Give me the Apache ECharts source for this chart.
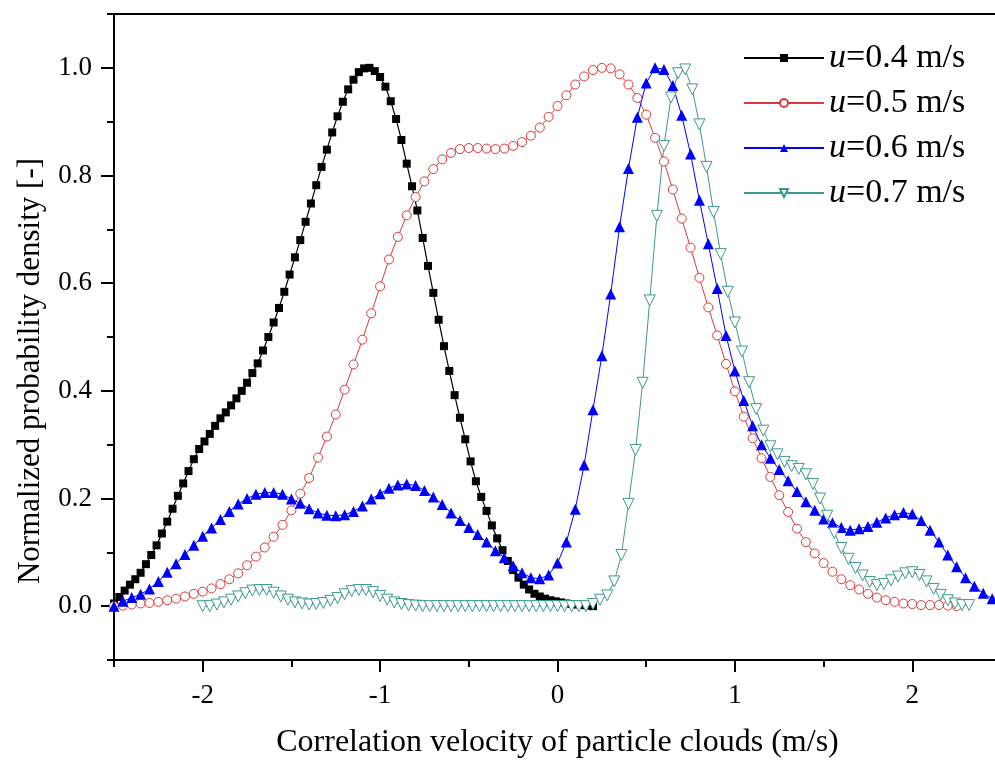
<!DOCTYPE html>
<html>
<head>
<meta charset="utf-8">
<script src="https://cdn.jsdelivr.net/npm/echarts@6/dist/echarts.min.js"></script>
<style>
html,body{margin:0;padding:0;background:#fff;}
#chart{width:995px;height:765px;}
</style>
</head>
<body>
<div id="chart"></div>
<script>
// ---- data ----
const seriesNames = ['u=0.4 m/s', 'u=0.5 m/s', 'u=0.6 m/s', 'u=0.7 m/s'];

const x04 = [-2.5,-2.47,-2.44,-2.41,-2.38,-2.35,-2.32,-2.29,-2.26,-2.23,-2.2,-2.17,-2.14,-2.11,-2.08,-2.05,-2.02,-1.99,-1.96,-1.93,-1.9,-1.87,-1.84,-1.81,-1.78,-1.75,-1.72,-1.69,-1.66,-1.63,-1.6,-1.57,-1.54,-1.51,-1.48,-1.45,-1.42,-1.39,-1.36,-1.33,-1.3,-1.27,-1.24,-1.21,-1.18,-1.15,-1.12,-1.09,-1.06,-1.03,-1,-0.97,-0.94,-0.91,-0.88,-0.85,-0.82,-0.79,-0.76,-0.73,-0.7,-0.67,-0.64,-0.61,-0.58,-0.55,-0.52,-0.49,-0.46,-0.43,-0.4,-0.37,-0.34,-0.31,-0.28,-0.25,-0.22,-0.19,-0.16,-0.13,-0.1,-0.07,-0.04,-0.01,0.02,0.05,0.08,0.11,0.14,0.17,0.2];
const y04 = [0.005,0.017,0.029,0.040,0.050,0.062,0.078,0.095,0.113,0.135,
  0.157,0.181,0.205,0.228,0.251,0.273,0.292,0.306,0.320,0.335,
  0.349,0.360,0.373,0.386,0.400,0.415,0.433,0.451,0.475,0.500,
  0.527,0.554,0.584,0.616,0.648,0.680,0.714,0.748,0.782,0.816,
  0.848,0.880,0.910,0.937,0.960,0.978,0.992,0.999,1.000,0.994,
  0.983,0.965,0.938,0.905,0.866,0.822,0.780,0.735,0.684,0.632,
  0.582,0.532,0.483,0.437,0.392,0.350,0.310,0.269,0.232,0.203,
  0.177,0.150,0.126,0.104,0.084,0.067,0.053,0.040,0.031,0.023,
  0.018,0.014,0.011,0.009,0.007,0.005,0.004,0.003,0.002,0.001,
  0.000];

const x06 = [-2.5,-2.45,-2.4,-2.35,-2.3,-2.25,-2.2,-2.15,-2.1,-2.05,-2,-1.95,-1.9,-1.85,-1.8,-1.75,-1.7,-1.65,-1.6,-1.55,-1.5,-1.45,-1.4,-1.35,-1.3,-1.25,-1.2,-1.15,-1.1,-1.05,-1,-0.95,-0.9,-0.85,-0.8,-0.75,-0.7,-0.65,-0.6,-0.55,-0.5,-0.45,-0.4,-0.35,-0.3,-0.25,-0.2,-0.15,-0.1,-0.05,0,0.05,0.1,0.15,0.2,0.25,0.3,0.35,0.4,0.45,0.5,0.55,0.6,0.65,0.7,0.75,0.8,0.85,0.9,0.95,1,1.05,1.1,1.15,1.2,1.25,1.3,1.35,1.4,1.45,1.5,1.55,1.6,1.65,1.7,1.75,1.8,1.85,1.9,1.95,2,2.05,2.1,2.15,2.2,2.25,2.3,2.35,2.4,2.45,2.5];
const y06 = [0.000,0.009,0.016,0.022,0.032,0.046,0.063,0.079,0.096,0.113,
  0.130,0.145,0.161,0.176,0.190,0.200,0.208,0.211,0.211,0.208,
  0.199,0.191,0.181,0.173,0.169,0.168,0.170,0.176,0.186,0.199,
  0.209,0.219,0.225,0.227,0.224,0.215,0.203,0.189,0.173,0.159,
  0.146,0.133,0.119,0.103,0.090,0.075,0.062,0.053,0.051,0.058,
  0.080,0.119,0.180,0.262,0.365,0.465,0.580,0.705,0.813,0.908,
  0.972,1.000,0.997,0.967,0.912,0.840,0.754,0.673,0.590,0.503,
  0.437,0.382,0.335,0.300,0.275,0.254,0.233,0.213,0.194,0.178,
  0.162,0.155,0.146,0.141,0.144,0.148,0.156,0.164,0.170,0.174,
  0.171,0.159,0.141,0.119,0.095,0.073,0.053,0.037,0.024,0.014,
  0.008];

const x05 = [-2.5,-2.45,-2.4,-2.35,-2.3,-2.25,-2.2,-2.15,-2.1,-2.05,-2,-1.95,-1.9,-1.85,-1.8,-1.75,-1.7,-1.65,-1.6,-1.55,-1.5,-1.45,-1.4,-1.35,-1.3,-1.25,-1.2,-1.15,-1.1,-1.05,-1,-0.95,-0.9,-0.85,-0.8,-0.75,-0.7,-0.65,-0.6,-0.55,-0.5,-0.45,-0.4,-0.35,-0.3,-0.25,-0.2,-0.15,-0.1,-0.05,0,0.05,0.1,0.15,0.2,0.25,0.3,0.35,0.4,0.45,0.5,0.55,0.6,0.65,0.7,0.75,0.8,0.85,0.9,0.95,1,1.05,1.1,1.15,1.2,1.25,1.3,1.35,1.4,1.45,1.5,1.55,1.6,1.65,1.7,1.75,1.8,1.85,1.9,1.95,2,2.05,2.1,2.15,2.2,2.25];
const y05 = [0.000,0.001,0.003,0.005,0.006,0.008,0.011,0.014,0.018,0.023,
  0.027,0.033,0.041,0.050,0.061,0.076,0.092,0.109,0.129,0.151,
  0.178,0.209,0.238,0.276,0.315,0.356,0.402,0.449,0.495,0.544,
  0.594,0.644,0.686,0.726,0.760,0.789,0.812,0.830,0.842,0.849,
  0.851,0.851,0.850,0.849,0.850,0.855,0.862,0.874,0.889,0.909,
  0.929,0.949,0.969,0.984,0.996,1.000,0.999,0.988,0.969,0.944,
  0.913,0.870,0.826,0.774,0.720,0.666,0.610,0.555,0.503,0.450,
  0.399,0.352,0.312,0.275,0.240,0.206,0.175,0.144,0.119,0.098,
  0.080,0.064,0.050,0.039,0.031,0.023,0.016,0.011,0.008,0.005,
  0.004,0.002,0.002,0.002,0.001,0.000];

const x07 = [-2,-1.96,-1.92,-1.88,-1.84,-1.8,-1.76,-1.72,-1.68,-1.64,-1.6,-1.56,-1.52,-1.48,-1.44,-1.4,-1.36,-1.32,-1.28,-1.24,-1.2,-1.16,-1.12,-1.08,-1.04,-1,-0.96,-0.92,-0.88,-0.84,-0.8,-0.76,-0.72,-0.68,-0.64,-0.6,-0.56,-0.52,-0.48,-0.44,-0.4,-0.36,-0.32,-0.28,-0.24,-0.2,-0.16,-0.12,-0.08,-0.04,0,0.04,0.08,0.12,0.16,0.2,0.24,0.28,0.32,0.36,0.4,0.44,0.48,0.52,0.56,0.6,0.64,0.68,0.72,0.76,0.8,0.84,0.88,0.92,0.96,1,1.04,1.08,1.12,1.16,1.2,1.24,1.28,1.32,1.36,1.4,1.44,1.48,1.52,1.56,1.6,1.64,1.68,1.72,1.76,1.8,1.84,1.88,1.92,1.96,2,2.04,2.08,2.12,2.16,2.2,2.24,2.28,2.32];
const y07 = [0.000,0.000,0.003,0.007,0.012,0.018,0.024,0.029,0.030,0.030,
  0.025,0.018,0.012,0.007,0.005,0.003,0.004,0.006,0.010,0.015,
  0.022,0.028,0.030,0.030,0.026,0.019,0.012,0.007,0.004,0.002,
  0.001,
  0,0,0,0,0,0,0,0,0,0,0,0,0,0,0,0,0,0,0,0,0,0,0,0,
  0.004,
  0.012,0.020,0.046,0.095,
  0.190,0.290,0.415,0.568,0.725,0.855,0.945,0.990,0.997,0.960,
  0.895,0.816,0.732,0.654,0.584,0.527,0.473,0.416,0.366,0.326,
  0.297,0.282,0.268,0.260,0.255,0.245,0.227,0.200,0.168,0.136,
  0.108,0.088,0.071,0.057,0.045,0.039,0.041,0.048,0.055,0.061,
  0.063,0.058,0.046,0.032,0.021,0.011,0.005,0.002,0.002];

const xLabelTicks = [-2, -1, 0, 1, 2];
const xMinorTicks = [-2.5, -1.5, -0.5, 0.5, 1.5, 2.5];
const yLabelTicks = [0, 0.2, 0.4, 0.6, 0.8, 1.0];
const yMinorTicks = [-0.1, 0.1, 0.3, 0.5, 0.7, 0.9, 1.1];

// ---- chart ----
function pairs(xs, ys) {
  const n = Math.min(xs.length, ys.length);
  const out = [];
  for (let i = 0; i < n; i++) out.push([xs[i], ys[i]]);
  return out;
}
const FONT = 'Liberation Serif';
const colors = ['#000000', '#dc3a3a', '#0000ff', '#3e9a91'];

const chart = echarts.init(document.getElementById('chart'), null, {renderer: 'canvas'});

const baseAxisLine = {show: true, onZero: false, lineStyle: {color: '#000', width: 2}};

chart.setOption({
  animation: false,
  backgroundColor: '#fff',
  grid: {left: 114, right: -6, top: 14, bottom: 105, containLabel: false, outerBoundsMode: 'none'},
  legend: {
    orient: 'vertical',
    left: 738,
    top: 36,
    itemWidth: 80,
    itemHeight: 10,
    itemGap: 11,
    data: seriesNames,
    formatter: function (name) { return '{i|u}' + name.substring(1); },
    textStyle: {
      fontFamily: FONT, fontSize: 34, color: '#000', lineHeight: 32,
      rich: {i: {fontFamily: FONT, fontSize: 34, fontStyle: 'italic', color: '#000', lineHeight: 32}}
    }
  },
  xAxis: [
    {
      type: 'value', position: 'bottom', min: -2.5, max: 2.5,
      axisLine: baseAxisLine,
      axisTick: {show: true, inside: false, length: 12, customValues: xLabelTicks, lineStyle: {color: '#000', width: 2}},
      axisLabel: {show: true, customValues: xLabelTicks, margin: 22, fontFamily: FONT, fontSize: 27, color: '#000',
        formatter: function (v) { return String(v); }},
      splitLine: {show: false},
      name: 'Correlation velocity of particle clouds (m/s)',
      nameLocation: 'middle', nameGap: 67,
      nameTextStyle: {fontFamily: FONT, fontSize: 32, color: '#000'}
    },
    {
      type: 'value', position: 'bottom', min: -2.5, max: 2.5,
      axisLine: {show: false, onZero: false},
      axisTick: {show: true, inside: false, length: 7, customValues: xMinorTicks, lineStyle: {color: '#000', width: 2}},
      axisLabel: {show: false},
      splitLine: {show: false}
    },
    {
      type: 'value', position: 'top', min: -2.5, max: 2.5,
      axisLine: baseAxisLine,
      axisTick: {show: false},
      axisLabel: {show: false},
      splitLine: {show: false}
    }
  ],
  yAxis: [
    {
      type: 'value', position: 'left', min: -0.1, max: 1.1,
      axisLine: baseAxisLine,
      axisTick: {show: true, inside: false, length: 13, customValues: yLabelTicks, lineStyle: {color: '#000', width: 2}},
      axisLabel: {show: true, customValues: yLabelTicks, margin: 22, fontFamily: FONT, fontSize: 27, color: '#000',
        formatter: function (v) { return v.toFixed(1); }},
      splitLine: {show: false},
      name: 'Normalized probability density [-]',
      nameLocation: 'middle', nameGap: 68,
      nameTextStyle: {fontFamily: FONT, fontSize: 31, color: '#000', padding: [0, 68, 0, 0]}
    },
    {
      type: 'value', position: 'left', min: -0.1, max: 1.1,
      axisLine: {show: false, onZero: false},
      axisTick: {show: true, inside: false, length: 7, customValues: yMinorTicks, lineStyle: {color: '#000', width: 2}},
      axisLabel: {show: false},
      splitLine: {show: false}
    }
  ],
  series: [
    {
      name: seriesNames[0], type: 'line', xAxisIndex: 0, yAxisIndex: 0,
      data: pairs(x04, y04),
      symbol: 'rect', symbolSize: 8,
      lineStyle: {color: colors[0], width: 1.2},
      itemStyle: {color: colors[0], borderWidth: 0}
    },
    {
      name: seriesNames[1], type: 'line', xAxisIndex: 0, yAxisIndex: 0,
      data: pairs(x05, y05),
      symbol: 'circle', symbolSize: 9,
      lineStyle: {color: colors[1], width: 1},
      itemStyle: {color: '#ffffff', borderColor: colors[1], borderWidth: 1}
    },
    {
      name: seriesNames[2], type: 'line', xAxisIndex: 0, yAxisIndex: 0,
      data: pairs(x06, y06),
      symbol: 'triangle', symbolSize: 11,
      lineStyle: {color: colors[2], width: 1},
      itemStyle: {color: colors[2], borderWidth: 0}
    },
    {
      name: seriesNames[3], type: 'line', xAxisIndex: 0, yAxisIndex: 0,
      data: pairs(x07, y07),
      symbol: 'triangle', symbolRotate: 180, symbolSize: 11,
      lineStyle: {color: colors[3], width: 1},
      itemStyle: {color: '#ffffff', borderColor: colors[3], borderWidth: 1}
    }
  ]
});
</script>
</body>
</html>
